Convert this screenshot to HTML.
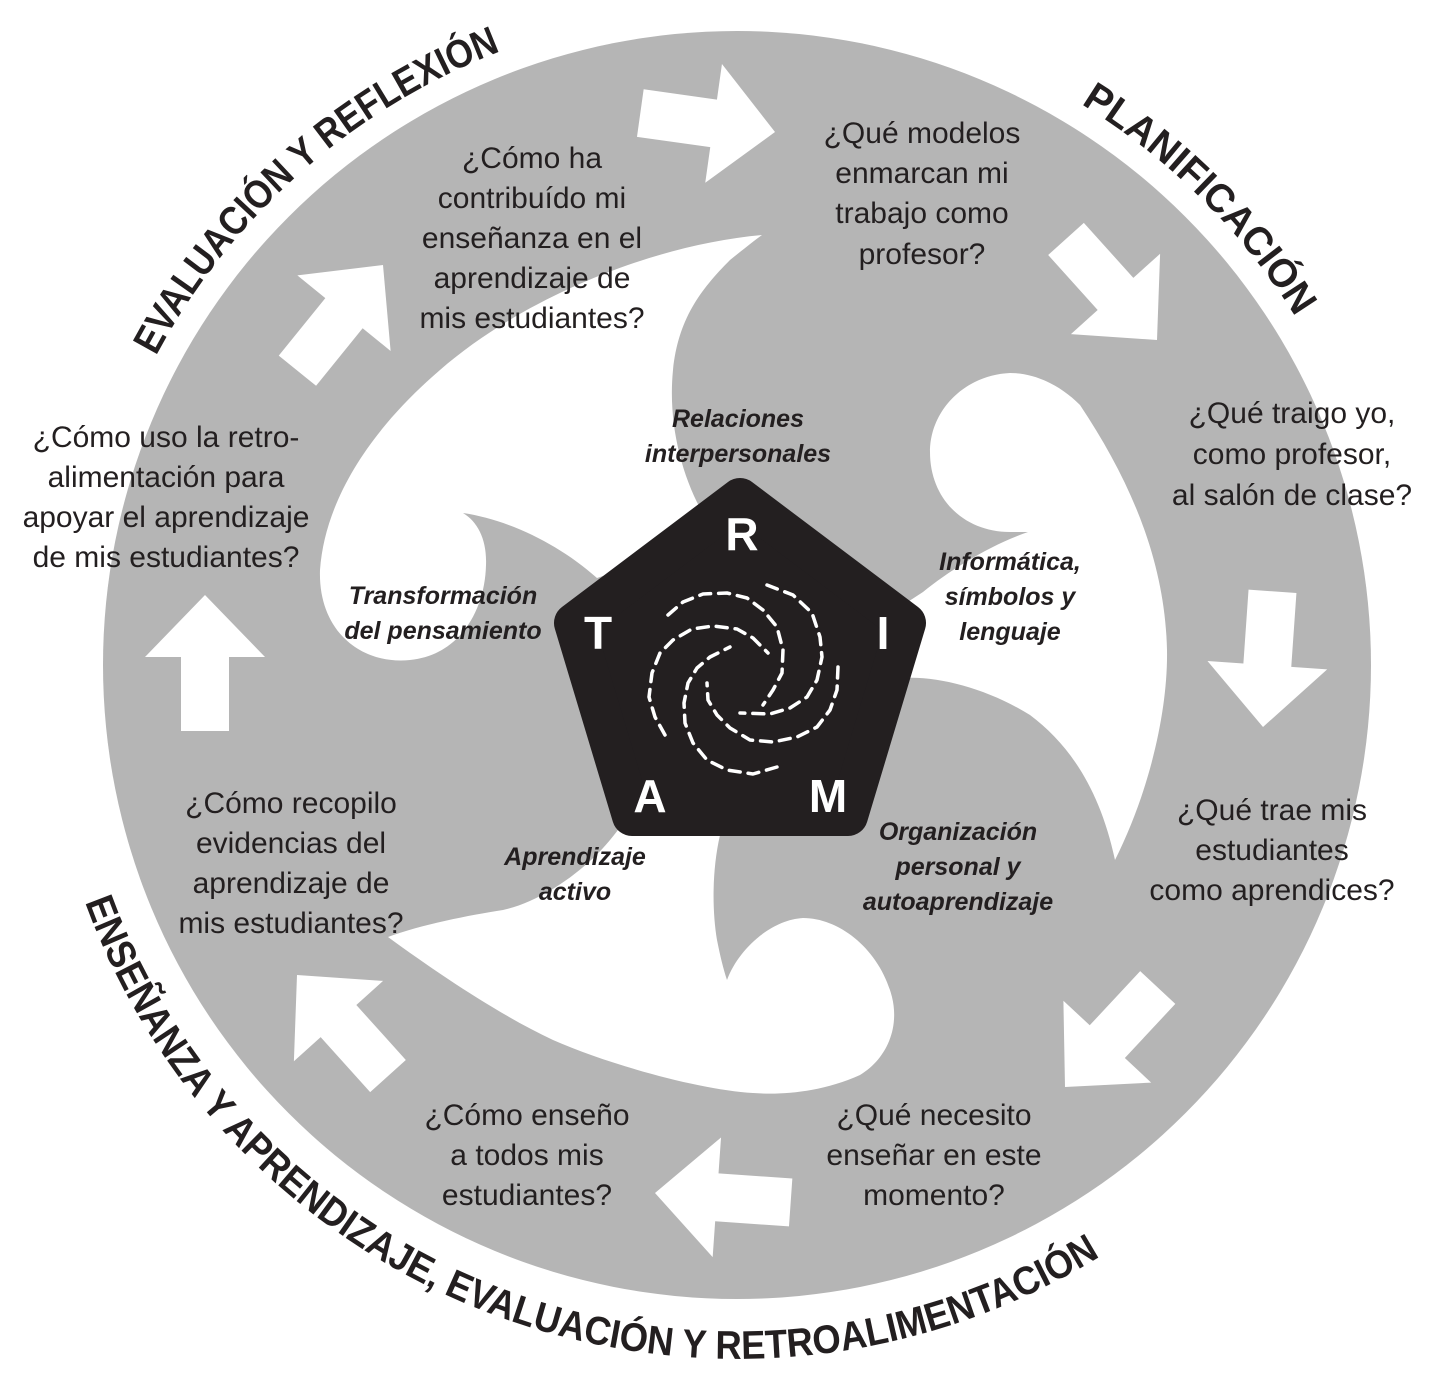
<!DOCTYPE html>
<html><head><meta charset="utf-8"><style>
html,body{margin:0;padding:0;background:#fff;}
svg{display:block;}
.q{font-family:"Liberation Sans",sans-serif;font-size:30px;fill:#231f20;text-anchor:middle;}
.l{font-family:"Liberation Sans",sans-serif;font-size:25px;font-weight:bold;font-style:italic;fill:#231f20;text-anchor:middle;}
.h{font-family:"Liberation Sans",sans-serif;font-size:40px;font-weight:bold;fill:#231f20;}
.P{font-family:"Liberation Sans",sans-serif;font-size:46px;font-weight:bold;fill:#fff;text-anchor:middle;}
.sp{fill:none;stroke:#fff;stroke-width:3.5;stroke-dasharray:11 8;stroke-linecap:round;stroke-linejoin:round;}
</style></head><body>
<svg width="1439" height="1383" viewBox="0 0 1439 1383" xmlns="http://www.w3.org/2000/svg">
<defs>
<path id="pTL" d="M156,356 A658,658 0 0 1 512,47"/>
<path id="pTR" d="M1081,104 A658,658 0 0 1 1301,326"/>
<path id="pB" d="M85,902 A694,694 0 0 0 1115,1247"/>
<polygon id="ar" points="0,0 -62,-60 -62,-24 -136,-24 -136,24 -62,24 -62,60"/>
</defs>
<circle cx="737" cy="665" r="634" fill="#b5b5b5"/>

<path fill="#fff" d="M762,235 C650,245 520,300 440,370 C370,430 325,500 320,570 C318,630 360,665 410,660 C460,655 485,610 486,565 C487,540 478,522 463,513 C510,520 560,545 597,578 L650,560 L700,508 C680,470 668,420 673,370 C678,320 700,290 730,260 C745,248 755,240 762,235 Z"/>
<path fill="#fff" d="M1010,373 C965,375 930,410 930,452 C930,500 965,532 1010,532 L1028,532 C990,545 950,570 923,592 L880,620 L905,678 C940,676 990,690 1030,715 C1070,745 1100,790 1115,860 C1150,790 1168,710 1167,650 C1165,560 1130,480 1080,405 C1060,385 1035,373 1010,373 Z"/>
<path fill="#fff" d="M388,937 C420,925 470,915 503,910 C540,902 590,870 620,827 L630,800 L715,800 L720,835 C712,870 712,910 717,940 C720,955 723,968 727,980 C738,950 770,920 803,918 C840,918 880,950 892,997 C900,1030 885,1060 860,1075 C820,1093 780,1095 753,1093 C700,1090 610,1065 553,1040 C500,1015 440,975 388,937 Z"/>

<polygon points="740,498 906,623 848,816 632,816 574,623" fill="#231f20" stroke="#231f20" stroke-width="40" stroke-linejoin="round"/>
<text class="P" x="742" y="550">R</text>
<text class="P" x="598" y="649">T</text>
<text class="P" x="883" y="649">I</text>
<text class="P" x="650" y="812">A</text>
<text class="P" x="828" y="812">M</text>

<polyline class="sp" points="668,615 683,602 703,594 727,593 747,598 763,610 777,627 783,650 782,673 773,690 763,705"/>
<polyline class="sp" points="767,585 793,595 812,613 820,637 822,657 817,680 807,697 790,708 770,714 740,713"/>
<polyline class="sp" points="838,667 837,690 830,710 817,727 797,737 773,742 750,740 730,728 717,715 708,700 707,683"/>
<polyline class="sp" points="777,767 753,774 727,770 707,760 693,743 685,723 684,703 688,683 697,668 710,657 730,647"/>
<polyline class="sp" points="665,735 655,717 649,697 652,673 660,653 673,640 692,629 713,626 737,629 753,638 768,653"/>

<g fill="#fff">
<use href="#ar" transform="translate(775,132) rotate(8)"/>
<use href="#ar" transform="translate(1157,340) rotate(48)"/>
<use href="#ar" transform="translate(1263,727) rotate(94)"/>
<use href="#ar" transform="translate(1065,1087) rotate(133)"/>
<use href="#ar" transform="translate(655,1193) rotate(184)"/>
<use href="#ar" transform="translate(297,975) rotate(228)"/>
<use href="#ar" transform="translate(205,595) rotate(-90)"/>
<use href="#ar" transform="translate(383,265) rotate(-51)"/>
</g>

<text class="q"><tspan x="532" y="168">¿Cómo ha</tspan><tspan x="532" y="208">contribuído mi</tspan><tspan x="532" y="248">enseñanza en el</tspan><tspan x="532" y="288">aprendizaje de</tspan><tspan x="532" y="328">mis estudiantes?</tspan></text>
<text class="q"><tspan x="922" y="143">¿Qué modelos</tspan><tspan x="922" y="183">enmarcan mi</tspan><tspan x="922" y="223">trabajo como</tspan><tspan x="922" y="264">profesor?</tspan></text>
<text class="q"><tspan x="1292" y="423">¿Qué traigo yo,</tspan><tspan x="1292" y="464">como profesor,</tspan><tspan x="1292" y="505">al salón de clase?</tspan></text>
<text class="q"><tspan x="1272" y="820">¿Qué trae mis</tspan><tspan x="1272" y="860">estudiantes</tspan><tspan x="1272" y="900">como aprendices?</tspan></text>
<text class="q"><tspan x="934" y="1125">¿Qué necesito</tspan><tspan x="934" y="1165">enseñar en este</tspan><tspan x="934" y="1205">momento?</tspan></text>
<text class="q"><tspan x="527" y="1125">¿Cómo enseño</tspan><tspan x="527" y="1165">a todos mis</tspan><tspan x="527" y="1205">estudiantes?</tspan></text>
<text class="q"><tspan x="291" y="813">¿Cómo recopilo</tspan><tspan x="291" y="853">evidencias del</tspan><tspan x="291" y="893">aprendizaje de</tspan><tspan x="291" y="933">mis estudiantes?</tspan></text>
<text class="q"><tspan x="166" y="447">¿Cómo uso la retro-</tspan><tspan x="166" y="487">alimentación para</tspan><tspan x="166" y="527">apoyar el aprendizaje</tspan><tspan x="166" y="567">de mis estudiantes?</tspan></text>

<text class="l"><tspan x="738" y="427">Relaciones</tspan><tspan x="738" y="462">interpersonales</tspan></text>
<text class="l"><tspan x="1010" y="570">Informática,</tspan><tspan x="1010" y="605">símbolos y</tspan><tspan x="1010" y="640">lenguaje</tspan></text>
<text class="l"><tspan x="443" y="604">Transformación</tspan><tspan x="443" y="639">del pensamiento</tspan></text>
<text class="l"><tspan x="958" y="840">Organización</tspan><tspan x="958" y="875">personal y</tspan><tspan x="958" y="910">autoaprendizaje</tspan></text>
<text class="l"><tspan x="575" y="865">Aprendizaje</tspan><tspan x="575" y="900">activo</tspan></text>

<text class="h"><textPath href="#pTL" textLength="470" lengthAdjust="spacingAndGlyphs">EVALUACIÓN Y REFLEXIÓN</textPath></text>
<text class="h"><textPath href="#pTR" textLength="305" lengthAdjust="spacingAndGlyphs">PLANIFICACIÓN</textPath></text>
<text class="h"><textPath href="#pB" textLength="1230" lengthAdjust="spacingAndGlyphs">ENSEÑANZA Y APRENDIZAJE, EVALUACIÓN Y RETROALIMENTACIÓN</textPath></text>
</svg>
</body></html>
